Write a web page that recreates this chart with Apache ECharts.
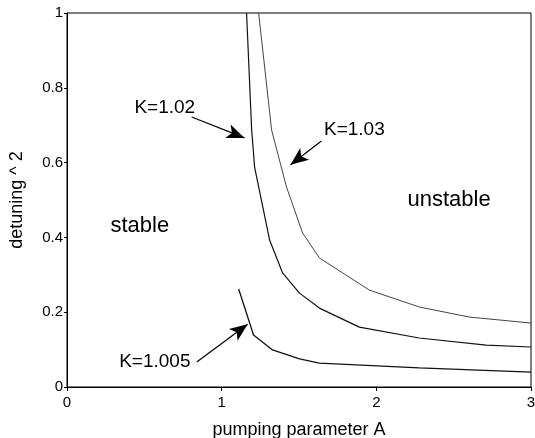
<!DOCTYPE html>
<html>
<head>
<meta charset="utf-8">
<script src="https://cdn.jsdelivr.net/npm/echarts@6/dist/echarts.min.js"></script>
<style>
  html, body { margin: 0; padding: 0; background: #fff; }
  #chart { width: 535px; height: 438px; }
</style>
</head>
<body>
<div id="chart"></div>
<script>
// curves: [pumping parameter A, detuning^2]
var k1005 = [[1.11, 0.262], [1.206, 0.139], [1.329, 0.099], [1.503, 0.075], [1.632, 0.064], [2.277, 0.051], [3.0, 0.040]];
var k102 = [[1.161, 1.0], [1.194, 0.687], [1.213, 0.588], [1.31, 0.393], [1.394, 0.305], [1.503, 0.251], [1.632, 0.211], [1.89, 0.16], [2.277, 0.131], [2.71, 0.112], [3.0, 0.107]];
var k103 = [[1.239, 1.0], [1.323, 0.687], [1.419, 0.535], [1.523, 0.412], [1.632, 0.345], [1.955, 0.259], [2.277, 0.214], [2.6, 0.187], [3.0, 0.171]];

var xTicks = [0, 1, 2, 3];
var yTicks = [0, 0.2, 0.4, 0.6, 0.8, 1];

// annotations (data coords): text and arrows
var notes = [
  { text: 'K=1.02', at: [0.632, 0.746], size: 19 },
  { text: 'K=1.03', at: [1.858, 0.687], size: 19 },
  { text: 'K=1.005', at: [0.568, 0.067], size: 19 },
  { text: 'stable', at: [0.471, 0.430], size: 22 },
  { text: 'unstable', at: [2.47, 0.500], size: 22 }
];
var arrows = [
  [[0.806, 0.722], [1.148, 0.666]],
  [[1.645, 0.658], [1.445, 0.594]],
  [[0.839, 0.067], [1.168, 0.168]]
];

var font = 'Liberation Sans, Arial, sans-serif';
var myChart = echarts.init(document.getElementById('chart'));

function lineSeries(name, data, color, width) {
  return {
    name: name,
    type: 'line',
    data: data,
    symbol: 'none',
    silent: true,
    animation: false,
    lineStyle: { color: color, width: width }
  };
}

function initOption() {
  var series = [
    lineSeries('K=1.005', k1005, '#111', 1.3),
    lineSeries('K=1.02', k102, '#111', 1.2),
    lineSeries('K=1.03', k103, '#444', 1)
  ];
  series[0].markLine = {
    silent: true,
    animation: false,
    symbol: ['none', 'arrow'],
    symbolSize: [11, 18],
    label: { show: false },
    lineStyle: { color: '#000', width: 1.2, type: 'solid' },
    data: arrows.map(function (a) {
      return [{ coord: a[0] }, { coord: a[1] }];
    })
  };
  series[0].markPoint = {
    silent: true,
    animation: false,
    symbol: 'circle',
    symbolSize: 0,
    data: notes.map(function (n) {
      return {
        coord: n.at,
        label: {
          show: true,
          position: 'inside',
          formatter: n.text,
          color: '#000',
          fontSize: n.size,
          fontFamily: font
        }
      };
    })
  };

  return {
    backgroundColor: '#fff',
    animation: false,
    grid: {
      left: 67, right: 4, top: 13, bottom: 51,
      outerBoundsMode: 'none',
      show: true, borderColor: '#000', borderWidth: 1
    },
    xAxis: {
      type: 'value',
      min: 0, max: 3, interval: 1,
      name: 'pumping parameter A',
      nameLocation: 'middle',
      nameGap: 34,
      nameTextStyle: { color: '#000', fontSize: 18, fontFamily: font },
      axisLine: { lineStyle: { color: '#000', width: 1 } },
      axisTick: { show: true, length: 4, lineStyle: { color: '#000' } },
      axisLabel: {
        color: '#000', fontSize: 15, fontFamily: font, margin: 8,
        formatter: function (v) { return xTicks.indexOf(v) >= 0 ? String(v) : ''; }
      },
      splitLine: { show: false }
    },
    yAxis: {
      type: 'value',
      min: 0, max: 1, interval: 0.2,
      name: 'detuning ^ 2',
      nameLocation: 'middle',
      nameGap: 41,
      nameTextStyle: { color: '#000', fontSize: 18, fontFamily: font },
      axisLine: { show: true, lineStyle: { color: '#000', width: 1 } },
      axisTick: { show: true, length: 3, lineStyle: { color: '#000' } },
      axisLabel: {
        color: '#000', fontSize: 15, fontFamily: font, margin: 4,
        formatter: function (v) {
          var t = yTicks.find(function (y) { return Math.abs(y - v) < 1e-9; });
          return t === undefined ? '' : String(t);
        }
      },
      splitLine: { show: false }
    },
    series: series
  };
}

myChart.setOption(initOption());
</script>
</body>
</html>
